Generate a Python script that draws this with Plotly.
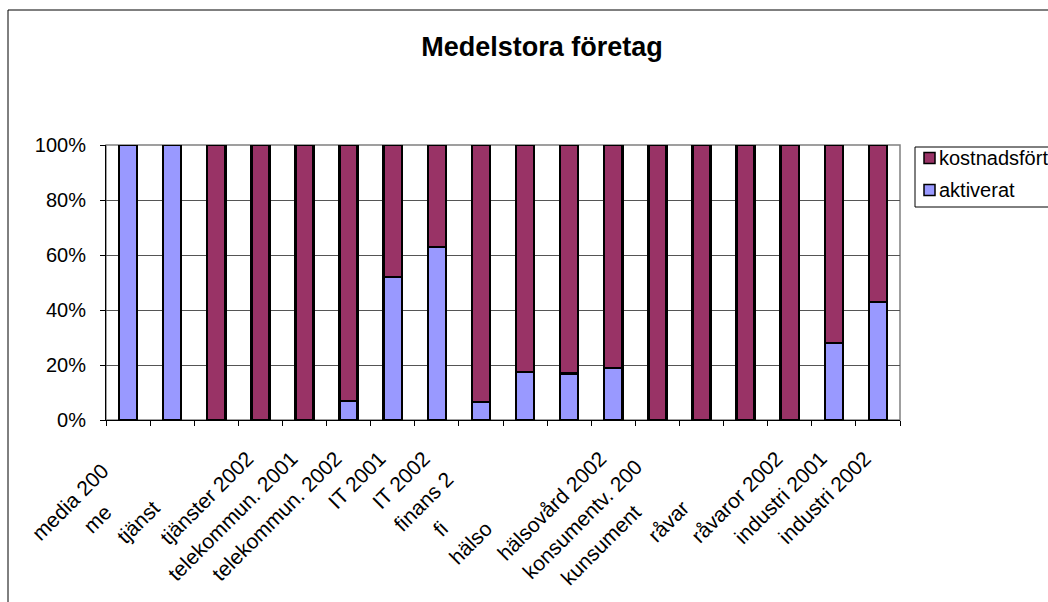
import plotly.graph_objects as go

# Category labels (as they read on the axis) and the two stacked shares, in percent
categories = [
    "media 2001", "media 2002", "tjänster 2001", "tjänster 2002",
    "telekommun. 2001", "telekommun. 2002", "IT 2001", "IT 2002",
    "finans 2001", "finans 2002", "hälsovård 2001", "hälsovård 2002",
    "konsumentv. 2001", "kunsumentv. 2002", "råvaror 2001", "råvaror 2002",
    "industri 2001", "industri 2002",
]
tick_labels = [
    "media 200", "me", "tjänst", "tjänster 2002",
    "telekommun. 2001", "telekommun. 2002", "IT 2001", "IT 2002",
    "finans 2", "fi", "hälso", "hälsovård 2002",
    "konsumentv. 200", "kunsument", "råvar", "råvaror 2002",
    "industri 2001", "industri 2002",
]
aktiverat = [100, 100, 0, 0, 0, 7, 52, 63, 6.5, 17.5, 17, 19, 0, 0, 0, 0, 28, 43]
kostnadsfort = [0, 0, 100, 100, 100, 93, 48, 37, 93.5, 82.5, 83, 81, 100, 100, 100, 100, 72, 57]

series = [
    ("aktiverat", aktiverat, "#9999FF"),
    ("kostnadsfört", kostnadsfort, "#993366"),
]

# Trailing padding that slides clipped labels down along their slant
label_pad = [3, 13, 12, 0, 0, 0, 0, 0, 5, 17, 17, 0, 2, 13, 12, 0, 0, 0]
ticktext = [t + "\u00a0" * p for t, p in zip(tick_labels, label_pad)]

W, H = 1048, 602
L, R, T, B = 106, 900, 145, 420
FONT = "Liberation Sans, Arial, sans-serif"


def px_x(px):
    return (px - L) / (R - L)


def px_y(py):
    return (B - py) / (B - T)


fig = go.Figure()
for name, values, color in series:
    fig.add_trace(go.Bar(
        x=categories, y=values, name=name,
        marker=dict(color=color, line=dict(color="#000000", width=2.5)),
        width=0.41, showlegend=False,
    ))

fig.update_layout(
    width=W, height=H,
    barmode="stack",
    paper_bgcolor="white", plot_bgcolor="white",
    margin=dict(l=L, r=W - R, t=T, b=H - B, autoexpand=False),
    font=dict(family=FONT, size=20, color="#000000"),
    title=dict(
        text="<b>Medelstora företag</b>",
        font=dict(family=FONT, size=27, color="#000000"),
        x=542 / W, xanchor="center", xref="container",
        y=1 - 47 / H, yanchor="middle", yref="container",
    ),
    showlegend=False,
)

fig.update_xaxes(
    type="category",
    tickmode="array", tickvals=categories, ticktext=ticktext,
    tickangle=-45,
    tickson="boundaries", ticks="outside", ticklen=5, tickcolor="#000000",
    showline=True, linecolor="#000000", linewidth=1,
    showgrid=False, automargin=False,
    ticklabelstandoff=17, ticklabelshift=-13,
    tickfont=dict(family=FONT, size=21, color="#000000"),
)
fig.update_yaxes(
    range=[0, 100], dtick=20, ticksuffix="%",
    ticks="outside", ticklen=5, tickcolor="#000000",
    showline=True, linecolor="#000000", linewidth=1,
    showgrid=True, gridcolor="#555555", gridwidth=1,
    zeroline=False, automargin=False,
    ticklabelstandoff=10,
    tickfont=dict(family=FONT, size=20, color="#000000"),
)

# Grey frame round the plot area and the outer chart border
fig.add_shape(type="rect", xref="paper", yref="paper",
              x0=0, x1=1, y0=0, y1=1,
              line=dict(color="#808080", width=1.5), layer="below")
fig.add_shape(type="rect", xref="paper", yref="paper",
              x0=px_x(8), x1=px_x(W + 20), y0=px_y(H + 20), y1=px_y(10),
              line=dict(color="#000000", width=1), layer="below")

# Legend box: top series listed first, swatch followed by its name
fig.add_shape(type="rect", xref="paper", yref="paper",
              x0=px_x(915), x1=px_x(W + 20), y0=px_y(207), y1=px_y(147),
              line=dict(color="#000000", width=1), fillcolor="white")
row_y = [158, 190]
for (name, _, color), cy in zip(reversed(series), row_y):
    fig.add_shape(type="rect", xref="paper", yref="paper",
                  x0=px_x(924), x1=px_x(935), y0=px_y(cy + 5.5), y1=px_y(cy - 5.5),
                  line=dict(color="#000000", width=1.5), fillcolor=color)
    fig.add_annotation(text=name, xref="paper", yref="paper",
                       x=px_x(937), y=px_y(cy), xanchor="left", yanchor="middle",
                       showarrow=False,
                       font=dict(family=FONT, size=20, color="#000000"))

fig.write_html("out.html")
